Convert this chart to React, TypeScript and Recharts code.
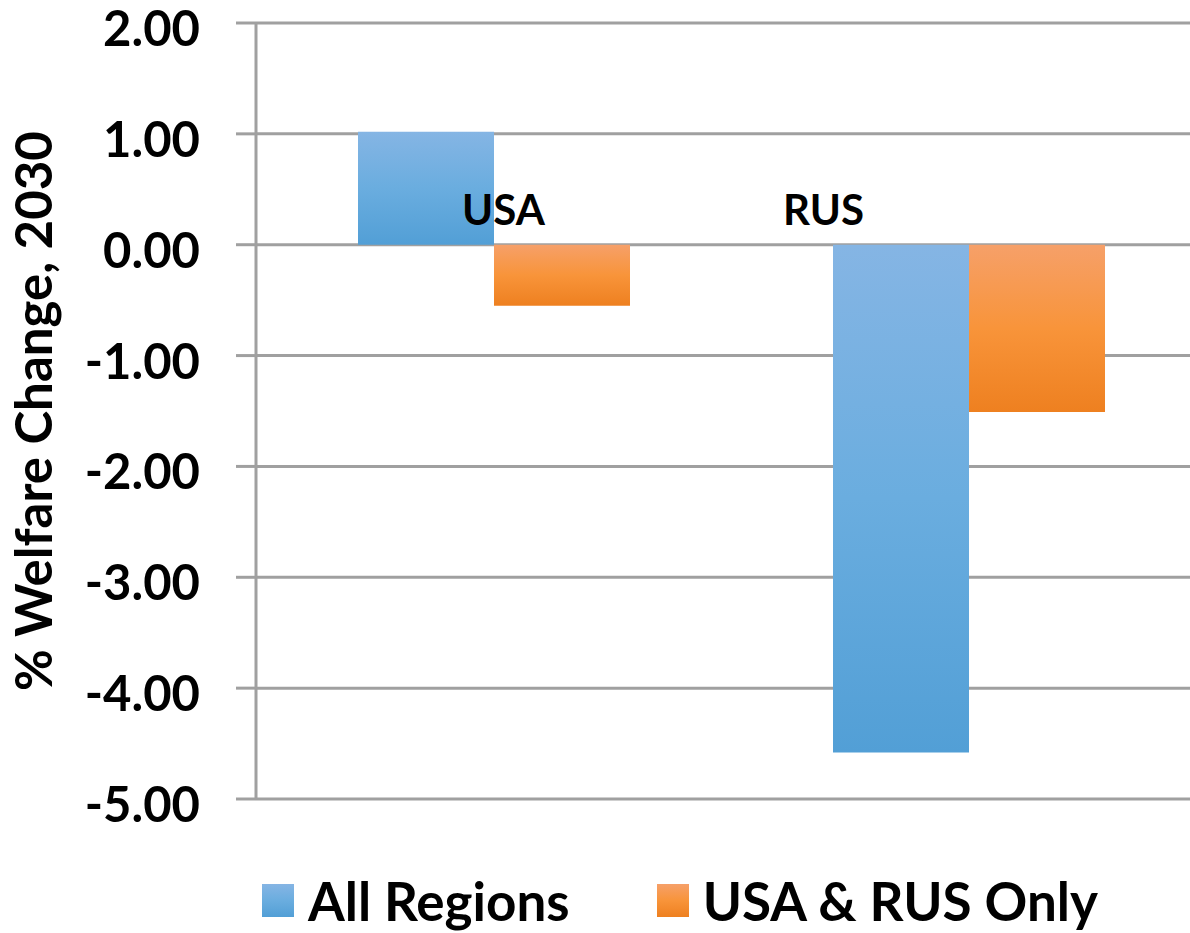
import React from "react";
import {
  BarChart,
  Bar,
  XAxis,
  YAxis,
  CartesianGrid,
  ReferenceDot,
  Label,
} from "recharts";

const regions = ["USA", "RUS"];
const allRegions = [1.02, -4.58];
const usaRusOnly = [-0.55, -1.51];
const yTicks = [2, 1, 0, -1, -2, -3, -4, -5];
const seriesNames = ["All Regions", "USA & RUS Only"];

const data = regions.map((region, i) => ({
  region,
  all: allRegions[i],
  pair: usaRusOnly[i],
}));

const FONT = "Lato, 'Open Sans', sans-serif";
const GRID = "#a0a0a0";

const BLUE_CSS = "linear-gradient(to bottom, #85b5e4, #6aaddf 50%, #529fd6)";
const ORANGE_CSS = "linear-gradient(to bottom, #f6a069, #f8943a 50%, #ee8020)";

const YTick = (props: any) => {
  const { x, y, payload } = props;
  return (
    <text
      x={x}
      y={y}
      dy={23}
      textAnchor="end"
      fontFamily={FONT}
      fontWeight={700}
      fontSize={49}
      fill="#000"
    >
      {Number(payload.value).toFixed(2)}
    </text>
  );
};

const YTitle = (props: any) => {
  const { viewBox } = props;
  const cy = viewBox.y + viewBox.height / 2;
  const cx = 52;
  return (
    <text
      x={cx}
      y={cy}
      transform={`rotate(-90 ${cx} ${cy})`}
      textAnchor="middle"
      fontFamily={FONT}
      fontWeight={700}
      fontSize={51}
      fill="#000"
    >
      % Welfare Change, 2030
    </text>
  );
};

// category names sit just above the zero line, nudged sideways like the original
const CatLabel = (props: any) => {
  const { viewBox, text, shift } = props;
  return (
    <text
      x={viewBox.x + shift}
      y={viewBox.y - 20}
      textAnchor="middle"
      fontFamily={FONT}
      fontWeight={700}
      fontSize={42}
      fill="#000"
    >
      {text}
    </text>
  );
};

const labelShift = [10, -145];

export default function App() {
  return (
    <div
      style={{
        position: "absolute",
        left: 0,
        top: 0,
        width: 1190,
        height: 933,
        overflow: "hidden",
        background: "#fff",
      }}
    >
      <BarChart
        width={1230}
        height={850}
        data={data}
        margin={{ top: 23, right: 24, bottom: 51, left: 0 }}
        barSize={136}
        barGap={0}
      >
        <defs>
          <linearGradient id="gBlue" x1="0" y1="0" x2="0" y2="1">
            <stop offset="0%" stopColor="#85b5e4" />
            <stop offset="50%" stopColor="#6aaddf" />
            <stop offset="100%" stopColor="#529fd6" />
          </linearGradient>
          <linearGradient id="gOrange" x1="0" y1="0" x2="0" y2="1">
            <stop offset="0%" stopColor="#f6a069" />
            <stop offset="50%" stopColor="#f8943a" />
            <stop offset="100%" stopColor="#ee8020" />
          </linearGradient>
        </defs>
        <CartesianGrid vertical={false} stroke={GRID} strokeWidth={3} />
        <XAxis dataKey="region" hide />
        <YAxis
          width={256}
          domain={[-5, 2]}
          ticks={yTicks}
          interval={0}
          axisLine={{ stroke: GRID, strokeWidth: 3 }}
          tickLine={{ stroke: GRID, strokeWidth: 3 }}
          tickSize={20}
          tickMargin={36}
          tick={<YTick />}
        >
          <Label content={<YTitle />} />
        </YAxis>
        <Bar
          dataKey="all"
          name={seriesNames[0]}
          fill="url(#gBlue)"
          isAnimationActive={false}
        />
        <Bar
          dataKey="pair"
          name={seriesNames[1]}
          fill="url(#gOrange)"
          isAnimationActive={false}
        />
        {regions.map((r, i) => (
          <ReferenceDot
            key={r}
            x={r}
            y={0}
            r={0}
            fill="none"
            stroke="none"
            label={<CatLabel text={r} shift={labelShift[i]} />}
          />
        ))}
      </BarChart>

      <div
        style={{
          position: "absolute",
          top: 884,
          left: 262,
          display: "flex",
          alignItems: "center",
          fontFamily: FONT,
          fontWeight: 700,
          fontSize: 53,
          color: "#000",
          whiteSpace: "nowrap",
        }}
      >
        {seriesNames.map((name, i) => (
          <div
            key={name}
            style={{
              display: "flex",
              alignItems: "center",
              marginRight: i === 0 ? 87 : 0,
              height: 33,
            }}
          >
            <div
              style={{
                width: 32,
                height: 33,
                background: i === 0 ? BLUE_CSS : ORANGE_CSS,
                marginRight: 14,
              }}
            />
            <span style={{ lineHeight: "33px" }}>{name}</span>
          </div>
        ))}
      </div>
    </div>
  );
}
